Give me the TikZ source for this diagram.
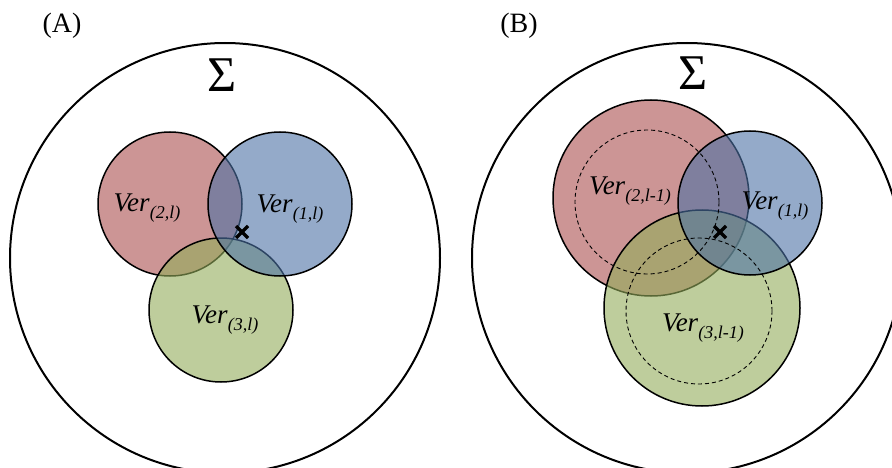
\documentclass[tikz,border=0pt]{standalone}
\usepackage{fontspec}
\setmainfont{Liberation Serif}
\definecolor{vred}{RGB}{170,78,78}
\definecolor{vblue}{RGB}{76,114,165}
\definecolor{vgreen}{RGB}{147,172,90}
\newcommand{\verlab}[1]{\fontsize{27}{27}\selectfont\textit{Ver}\raisebox{-7pt}{\fontsize{18}{18}\selectfont\textit{(#1)}}}
\tikzset{
  outerset/.style={circle, draw=black, line width=2pt, inner sep=0pt, outer sep=0pt, minimum size=430pt},
  vset/.style={circle, draw=black, line width=1.5pt, fill opacity=0.6, inner sep=0pt, outer sep=0pt, minimum size=#1},
  dset/.style={circle, draw=black, line width=0.9pt, dash pattern=on 4pt off 3pt, inner sep=0pt, outer sep=0pt, minimum size=#1},
  panellab/.style={font=\fontsize{28}{28}\selectfont, inner sep=0pt},
  sigmalab/.style={font=\fontsize{50}{50}\selectfont, inner sep=0pt},
  verlabel/.style={inner sep=0pt},
  crossline/.style={line width=3.3pt}
}
\begin{document}
\begin{tikzpicture}[x=1pt,y=-1pt]
\useasboundingbox (0,0) rectangle (892,468);
\clip (0,0) rectangle (892,468);
% ---------- Panel A ----------
\node[panellab] (labA) at (62,26) {(A)};
\node[outerset] (outA) at (225,258) {};
\node[sigmalab] (sigA) at (222,75) {Σ};
\node[vset=144pt, fill=vred] (redA) at (170,204) {};
\node[vset=144pt, fill=vgreen] (greenA) at (221,310) {};
\node[vset=144pt, fill=vblue] (blueA) at (280,204) {};
\node[verlabel] (t2A) at (147,208) {\verlab{2,l}};
\node[verlabel] (t1A) at (290,209) {\verlab{1,l}};
\node[verlabel] (t3A) at (225,320) {\verlab{3,l}};
\coordinate (xA) at (242,232);
\draw[crossline] ([shift={(-6,-6)}]xA) -- ([shift={(6,6)}]xA);
\draw[crossline] ([shift={(-6,6)}]xA) -- ([shift={(6,-6)}]xA);
% ---------- Panel B ----------
\node[panellab] (labB) at (519,26) {(B)};
\node[outerset] (outB) at (687,258) {};
\node[sigmalab] (sigB) at (693,73) {Σ};
\node[vset=196pt, fill=vred] (redB) at (651,198) {};
\node[vset=196pt, fill=vgreen] (greenB) at (702,308) {};
\node[vset=144pt, fill=vblue] (blueB) at (750,203) {};
\node[dset=144pt] (dredB) at (647,202) {};
\node[dset=146pt] (dgreenB) at (699,311) {};
\node[verlabel] (t2B) at (630,191) {\verlab{2,l-1}};
\node[verlabel] (t1B) at (775,206) {\verlab{1,l}};
\node[verlabel] (t3B) at (703,328) {\verlab{3,l-1}};
\coordinate (xB) at (720,232);
\draw[crossline] ([shift={(-6,-6)}]xB) -- ([shift={(6,6)}]xB);
\draw[crossline] ([shift={(-6,6)}]xB) -- ([shift={(6,-6)}]xB);
\end{tikzpicture}
\end{document}
